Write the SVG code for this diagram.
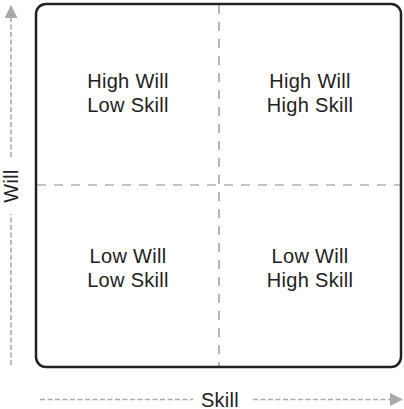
<svg xmlns="http://www.w3.org/2000/svg" width="404" height="409" viewBox="0 0 404 409">
<defs>
<style>
.lbl{font-family:"Liberation Sans",Arial,sans-serif;font-size:20px;letter-spacing:0.3px;fill:#222;text-anchor:middle}
.axis{stroke:#aaa;stroke-width:1.6;fill:none;stroke-dasharray:5 2.5}
.grid{stroke:#888;stroke-width:1.2;fill:none;stroke-dasharray:9 8}
</style>
<marker id="ah" viewBox="0 0 13 13" refX="12" refY="6.5" markerWidth="13" markerHeight="13" markerUnits="userSpaceOnUse" orient="auto">
<path d="M0,0 L13,6.5 L0,13 Z" fill="#aaa"/>
</marker>
</defs>
<rect x="0" y="0" width="404" height="409" fill="#fff"/>
<g id="connectors">
<path class="grid" d="M219,5 V366"/>
<path class="grid" d="M37,185 H400"/>
<path class="axis" d="M11,365 V214"/>
<path class="axis" d="M11,157 V6" marker-end="url(#ah)"/>
<path class="axis" d="M40,399.5 H193"/>
<path class="axis" d="M253,399.5 H402" marker-end="url(#ah)"/>
</g>
<g id="frame">
<rect x="36" y="4" width="365" height="363" rx="10" ry="10" fill="none" stroke="#222" stroke-width="2.5"/>
</g>
<g id="q-high-will-low-skill">
<text class="lbl" x="128" y="88">High Will</text>
<text class="lbl" x="128" y="112">Low Skill</text>
</g>
<g id="q-high-will-high-skill">
<text class="lbl" x="310" y="88">High Will</text>
<text class="lbl" x="310" y="112">High Skill</text>
</g>
<g id="q-low-will-low-skill">
<text class="lbl" x="128" y="263">Low Will</text>
<text class="lbl" x="128" y="287">Low Skill</text>
</g>
<g id="q-low-will-high-skill">
<text class="lbl" x="310" y="263">Low Will</text>
<text class="lbl" x="310" y="287">High Skill</text>
</g>
<g id="axis-labels">
<text class="lbl" x="220" y="406.5">Skill</text>
<text class="lbl" transform="translate(17.5,186) rotate(-90)" x="0" y="0">Will</text>
</g>
</svg>
